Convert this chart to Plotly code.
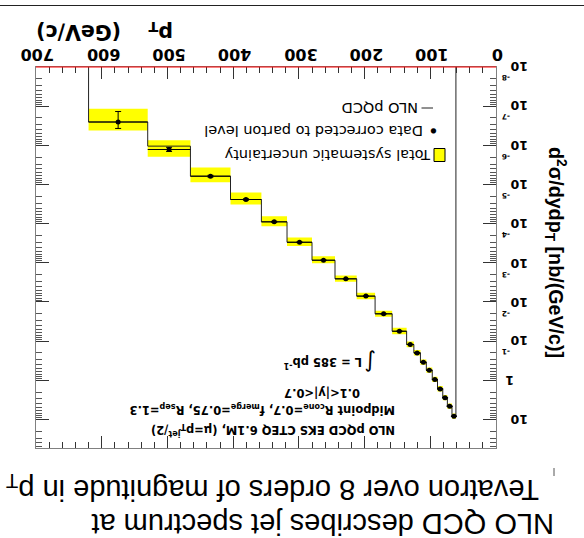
import math
import plotly.graph_objects as go

# ---- data: inclusive jet cross section, 0.1<|y|<0.7 ----
pt_edges = [61, 67, 74, 81, 89, 97, 106, 115, 125, 136, 158, 184, 212, 245, 280, 318, 357, 404, 465, 530, 620]
xsec_data = [8.3, 4.6, 2.8, 1.66, 0.96, 0.556, 0.347, 0.20, 0.122, 0.056,
             0.0201, 7.1e-3, 2.57e-3, 8.6e-4, 2.99e-4, 9.0e-5, 2.42e-5, 6.15e-6, 1.28e-6, 2.54e-7]
xsec_nlo = [8.3, 4.6, 2.8, 1.66, 0.96, 0.556, 0.347, 0.20, 0.122, 0.056,
            0.0201, 7.1e-3, 2.57e-3, 8.6e-4, 2.99e-4, 9.0e-5, 2.42e-5, 6.15e-6, 1.05e-6, 2.54e-7]
stat_err = [0.01, 0.01, 0.01, 0.01, 0.01, 0.01, 0.01, 0.01, 0.01, 0.01,
            0.01, 0.01, 0.01, 0.015, 0.02, 0.03, 0.04, 0.05, 0.12, 0.46]
sys_down = [0.15, 0.15, 0.15, 0.15, 0.15, 0.15, 0.15, 0.15, 0.16, 0.18,
            0.16, 0.18, 0.18, 0.21, 0.24, 0.28, 0.34, 0.40, 0.42, 0.54]
sys_up = [0.16, 0.16, 0.16, 0.16, 0.16, 0.16, 0.16, 0.17, 0.17, 0.20,
          0.18, 0.20, 0.19, 0.20, 0.24, 0.29, 0.34, 0.43, 0.54, 0.65]

x_ticks = [0, 100, 200, 300, 400, 500, 600, 700]
y_tickvals = [1e-8, 1e-7, 1e-6, 1e-5, 1e-4, 1e-3, 1e-2, 1e-1, 1, 10]
y_tickbase = ["10", "10", "10", "10", "10", "10", "10", "10", "1", "10"]
y_tickexp = ["-8", "-7", "-6", "-5", "-4", "-3", "-2", "-1", "", ""]

W, H = 584, 538
L, R, T, B = 36, 496, 67, 448
Y_MIN = 1e-8


def px(xp):
    return (xp - L) / (R - L)


def py(yp):
    return (B - yp) / (B - T)


lo = pt_edges[:-1]
hi = pt_edges[1:]
centers = [(a + b) / 2 for a, b in zip(lo, hi)]
halfw = [(b - a) / 2 for a, b in zip(lo, hi)]

# systematic band: one closed rectangle per bin
bx, by = [], []
for a, b, v, d, u in zip(lo, hi, xsec_data, sys_down, sys_up):
    y0, y1 = v * (1 - d), v * (1 + u)
    bx += [a, b, b, a, a, None]
    by += [y0, y0, y1, y1, y0, None]

# NLO histogram outline, dropping to the frame at both ends
hx, hy = [lo[0]], [Y_MIN]
for a, b, v in zip(lo, hi, xsec_nlo):
    hx += [a, b]
    hy += [v, v]
hx.append(hi[-1])
hy.append(Y_MIN)

fig = go.Figure()
fig.add_trace(go.Scatter(x=bx, y=by, mode="lines", fill="toself", fillcolor="#ffff00",
                         line=dict(width=0, color="#ffff00"), hoverinfo="skip", showlegend=False))
fig.add_trace(go.Scatter(x=hx, y=hy, mode="lines", line=dict(color="#222222", width=1),
                         showlegend=False))
fig.add_trace(go.Scatter(
    x=centers, y=xsec_data, mode="markers",
    marker=dict(color="black", size=5, symbol="circle"),
    error_x=dict(type="data", array=halfw, width=0, thickness=1, color="black"),
    error_y=dict(type="data", array=[v * e for v, e in zip(xsec_data, stat_err)],
                 width=3, thickness=1, color="black"),
    showlegend=False))

frame = "#808080"
tickc = "#333333"

fig.update_xaxes(range=[700, 0], side="top", tickvals=x_ticks, showticklabels=False,
                 ticks="inside", ticklen=12, tickcolor=tickc,
                 showline=True, linecolor=frame, linewidth=1, mirror="ticks",
                 showgrid=False, zeroline=False,
                 minor=dict(dtick=20, ticks="inside", ticklen=6, tickcolor=tickc, showgrid=False))
minor_y = [m * 10.0 ** k for k in range(-8, 2) for m in range(2, 10)]
fig.update_yaxes(type="log", range=[1.73, -8], side="right", tickvals=y_tickvals,
                 showticklabels=False, ticks="inside", ticklen=13, tickcolor=tickc,
                 showline=True, linecolor=frame, linewidth=1, mirror="ticks",
                 showgrid=False, zeroline=False,
                 minor=dict(tickvals=minor_y, ticks="inside", ticklen=6, tickcolor="#555555",
                            showgrid=False))

shapes = [
    # red axis line along the p_T axis
    dict(type="line", xref="paper", yref="paper", x0=0, x1=1, y0=1, y1=1,
         line=dict(color="#ff0000", width=1), layer="above"),
    # rule across the top of the page
    dict(type="line", xref="paper", yref="paper", x0=px(0), x1=px(W), y0=py(5.5), y1=py(5.5),
         line=dict(color="#222222", width=1)),
    # small mark beside the title
    dict(type="line", xref="paper", yref="paper", x0=px(554), x1=px(554), y0=py(468), y1=py(476),
         line=dict(color="#555555", width=1)),
    # legend symbols
    dict(type="line", xref="paper", yref="paper", x0=px(421.5), x1=px(433), y0=py(108), y1=py(108),
         line=dict(color="#222222", width=1)),
    dict(type="rect", xref="paper", yref="paper", x0=px(434), x1=px(445), y0=py(148.5), y1=py(161.5),
         fillcolor="#ffff00", line=dict(color="black", width=1)),
]

tick_font = dict(family="DejaVu Sans", size=16, color="black", weight="bold")
ytick_font = dict(family="DejaVu Sans", size=12.5, color="black", weight="bold")
yexp_font = dict(family="DejaVu Sans", size=7.5, color="black", weight="bold")
legend_font = dict(family="DejaVu Sans", size=14.5, color="black")
info_font = dict(family="DejaVu Sans", size=11.5, color="black", weight="bold")
title_font = dict(family="Liberation Sans", size=29, color="black")
xlabel_font = dict(family="DejaVu Sans", size=20.5, color="black", weight="bold")
ylabel_font = dict(family="Liberation Sans", size=19.7, color="black", weight="bold")


def note(text, xr, yc, font, anchor="right", angle=180):
    return dict(text=text, x=px(xr), y=py(yc), xref="paper", yref="paper", xanchor=anchor,
                yanchor="middle", showarrow=False, textangle=angle, font=font)


annotations = []
# p_T tick labels, upside down above the frame
for v in x_ticks:
    annotations.append(dict(text=str(v), x=v, y=py(54.3), xref="x", yref="paper", xshift=2,
                            xanchor="center", yanchor="middle", showarrow=False, textangle=180,
                            font=tick_font))
# cross-section tick labels, upside down right of the frame
for v, base, ex in zip(y_tickvals, y_tickbase, y_tickexp):
    right = 516 if base == "1" else 530
    annotations.append(dict(text=base, x=px(right), y=math.log10(v), xref="paper", yref="y",
                            xanchor="right", yanchor="middle", showarrow=False, textangle=180,
                            font=ytick_font))
    if ex:
        annotations.append(dict(text=ex, x=px(512.5), y=math.log10(v), xref="paper", yref="y",
                                yshift=-11, xanchor="right", yanchor="middle", showarrow=False,
                                textangle=180, font=yexp_font))

annotations += [
    note("NLO QCD describes jet spectrum at", 556, 524, title_font),
    note("Tevatron over 8 orders of magnitude in p<sub>T</sub>", 541, 488, title_font),
    note("p<sub>T</sub>", 175, 32, xlabel_font),
    note("(GeV/c)", 123, 32, xlabel_font),
    note("d<sup>2</sup>σ/dydp<sub>T</sub> [nb/(GeV/c)]", 555, 252, ylabel_font, anchor="center", angle=90),
    note("NLO pQCD", 420.5, 108, legend_font),
    note("●", 433.3, 131.5, dict(family="DejaVu Sans", size=7, color="black"), anchor="center"),
    note("Data corrected to parton level", 425, 131.5, legend_font),
    note("Total systematic uncertainty", 433, 155, legend_font),
    note("∫", 378, 363, dict(family="DejaVu Sans", size=22, color="black")),
    note("L = 385 pb<sup>-1</sup>", 364, 363, info_font),
    note("0.1<|y|<0.7", 362, 393, info_font),
    note("Midpoint R<sub>cone</sub>=0.7, f<sub>merge</sub>=0.75, R<sub>sep</sub>=1.3", 397, 410, info_font),
    note("NLO pQCD EKS CTEQ 6.1M, (μ=p<sub>T</sub><sup>jet</sup>/2)", 397, 430, info_font),
]

fig.update_layout(width=W, height=H, margin=dict(l=L, r=W - R, t=T, b=H - B, pad=0),
                  paper_bgcolor="white", plot_bgcolor="white", showlegend=False,
                  shapes=shapes, annotations=annotations)

fig.write_html("out.html")
